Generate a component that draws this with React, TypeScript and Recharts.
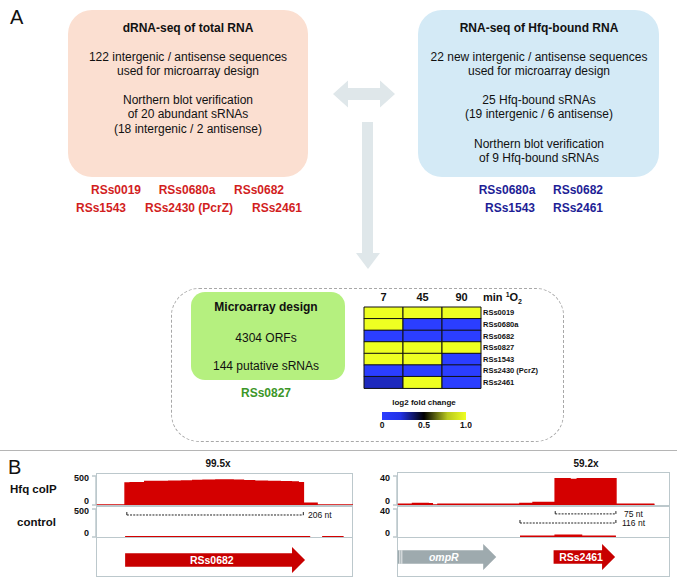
import React from "react";
import { Area, AreaChart, Bar, BarChart, Cell, ReferenceLine, XAxis, YAxis } from "recharts";

const FONT = 'Arial, "Liberation Sans", Helvetica, sans-serif';
const RED = "#d40000";
const FRAME = "#bcc8cc";
const ARROW = "#dfe7ea";

// heatmap: sRNA expression after singlet oxygen (normalised log2 fold change 0..1)
const sRNAs = ["RSs0019", "RSs0680a", "RSs0682", "RSs0827", "RSs1543", "RSs2430 (PcrZ)", "RSs2461"];
const timePoints = ["7", "45", "90"];
const fc7min = [1, 1, 0, 1, 1, 0, 0.27];
const fc45min = [1, 0, 0, 1, 1, 0, 1];
const fc90min = [1, 0, 0, 1, 0, 0, 0];
const foldSeries = [fc7min, fc45min, fc90min];
const scaleTicks = [0, 0.5, 1];

// coverage, left locus (RSs0682), nt positions in a 300 nt window
const leftNt = [0, 34, 40, 57, 70, 85, 100, 113, 125, 140, 150, 160, 172, 185, 200, 215, 228, 236, 242, 258, 300];
const leftHfq = [0, 380, 382, 405, 403, 408, 413, 420, 428, 431, 429, 426, 419, 410, 403, 400, 396, 382, 30, 0, 0];
const leftCtrlNt = [34, 250, 251, 264, 289];
const leftCtrl = [4, 4, null, 4, 4];

// coverage, right locus (ompR / RSs2461), 333 nt window
const rightNt = [0, 19, 38, 43, 50, 150, 166, 193, 211, 220, 267, 314];
const rightHfq = [1, 2, 1.5, 0, 1, 2, 3.5, 36, 35, 36, 1, 1];
const rightCtrlNt = [150, 193, 225, 267];
const rightCtrl = [1, 2.5, 1, 1];

// annotated genes
const leftGenes = ["RSs0682"];
const leftGeneStart = [34];
const leftGeneEnd = [244];
const rightGenes = ["ompR", "RSs2461"];
const rightGeneStart = [1, 191];
const rightGeneEnd = [121, 266];
const geneColors: Record<string, string> = { RSs0682: "#c80000", RSs2461: "#c80000", ompR: "#9eaaae" };
const italicGenes = ["ompR"];

const stops: [number, number[]][] = [
  [0, [43, 62, 255]],
  [0.22, [35, 50, 230]],
  [0.5, [0, 0, 0]],
  [0.78, [185, 200, 30]],
  [1, [238, 255, 34]],
];

const heatColor = (v: number) => {
  for (let i = 1; i < stops.length; i++) {
    const [p1, c1] = stops[i];
    const [p0, c0] = stops[i - 1];
    if (v <= p1) {
      const t = (v - p0) / (p1 - p0);
      const c = c0.map((a, k) => Math.round(a + (c1[k] - a) * t));
      return `rgb(${c[0]},${c[1]},${c[2]})`;
    }
  }
  return "rgb(238,255,34)";
};

type TxtProps = {
  x: number;
  y: number;
  size?: number;
  bold?: boolean;
  italic?: boolean;
  color?: string;
  align?: "left" | "center" | "right";
  children: React.ReactNode;
};

const Txt = ({ x, y, size = 12, bold, italic, color = "#111", align = "center", children }: TxtProps) => (
  <div
    style={{
      position: "absolute",
      left: x,
      top: y - size * 0.49,
      fontSize: size,
      lineHeight: `${size}px`,
      fontWeight: bold ? 700 : 400,
      fontStyle: italic ? "italic" : "normal",
      color,
      whiteSpace: "nowrap",
      transform: align === "center" ? "translateX(-50%)" : align === "right" ? "translateX(-100%)" : undefined,
    }}
  >
    {children}
  </div>
);

const AxisTick = ({ x, y, payload, yMax }: any) => (
  <text
    x={x}
    y={y + (payload.value === yMax ? 2 : -4)}
    dy="0.36em"
    textAnchor="end"
    fontSize={9}
    fontWeight={700}
    fill="#111"
    fontFamily={FONT}
  >
    {payload.value}
  </text>
);

const RowTick = ({ x, y, payload }: any) => (
  <text x={x} y={y} dy="0.36em" textAnchor="start" fontSize={7.5} fontWeight={700} fill="#111" fontFamily={FONT}>
    {payload.value}
  </text>
);

type TrackProps = {
  left: number;
  top: number;
  width: number;
  height: number;
  marginTop: number;
  nt: number[];
  cov: (number | null)[];
  xMax: number;
  yMax: number;
  stepped?: boolean;
  children?: React.ReactNode;
};

const CoverageTrack = ({ left, top, width, height, marginTop, nt, cov, xMax, yMax, stepped = true, children }: TrackProps) => {
  const data = nt.map((n, i) => ({ nt: n, cov: cov[i] }));
  return (
    <div style={{ position: "absolute", left, top }}>
      <AreaChart width={width} height={height} data={data} margin={{ top: marginTop, right: 0, bottom: 1, left: 0 }}>
        <XAxis type="number" dataKey="nt" domain={[0, xMax]} hide allowDataOverflow />
        <YAxis
          type="number"
          domain={[0, yMax]}
          ticks={[0, yMax]}
          interval={0}
          width={30}
          tickSize={4}
          tickMargin={3}
          axisLine={{ stroke: FRAME, strokeWidth: 1.5 }}
          tickLine={{ stroke: FRAME, strokeWidth: 1.5 }}
          tick={<AxisTick yMax={yMax} />}
          allowDataOverflow
        />
        <Area
          type={stepped ? "stepAfter" : "linear"}
          dataKey="cov"
          stroke={RED}
          strokeWidth={1.6}
          fill={RED}
          fillOpacity={1}
          dot={false}
          activeDot={false}
          connectNulls={false}
          isAnimationActive={false}
        />
        {children}
      </AreaChart>
    </div>
  );
};

const bracket = (key: string, from: number, to: number, level: number, tip: number) => [
  <ReferenceLine
    key={`${key}-h`}
    segment={[{ x: from, y: level }, { x: to, y: level }]}
    stroke="#222"
    strokeWidth={1}
    strokeDasharray="2 1.2"
    ifOverflow="visible"
  />,
  <ReferenceLine key={`${key}-a`} segment={[{ x: from, y: level }, { x: from, y: tip }]} stroke="#222" strokeWidth={1} ifOverflow="visible" />,
  <ReferenceLine key={`${key}-b`} segment={[{ x: to, y: level }, { x: to, y: tip }]} stroke="#222" strokeWidth={1} ifOverflow="visible" />,
];

const GeneArrow = (props: any) => {
  const { x, y, width, height, fill, label } = props;
  const hl = 13;
  const cy = y + height / 2;
  const sh = height * 0.26;
  const xe = x + width;
  const xs = xe - hl;
  const pts = `${x},${cy - sh} ${xs},${cy - sh} ${xs},${y} ${xe},${cy} ${xs},${y + height} ${xs},${cy + sh} ${x},${cy + sh}`;
  return (
    <g>
      <polygon points={pts} fill={fill} />
      {x < 3 && (
        <>
          <line x1={x + 2} x2={x + 2} y1={cy - sh} y2={cy + sh} stroke="#fff" strokeWidth={0.8} />
          <line x1={x + 4} x2={x + 4} y1={cy - sh} y2={cy + sh} stroke="#fff" strokeWidth={0.8} />
        </>
      )}
      <text
        x={x + (width - hl / 2) / 2}
        y={cy}
        dy="0.36em"
        textAnchor="middle"
        fill="#fff"
        fontSize={10.5}
        fontWeight={700}
        fontStyle={italicGenes.includes(label) ? "italic" : "normal"}
        fontFamily={FONT}
      >
        {label}
      </text>
    </g>
  );
};

type GeneProps = {
  left: number;
  top: number;
  width: number;
  marginTop: number;
  xMax: number;
  genes: string[];
  starts: number[];
  ends: number[];
};

const GeneTrack = ({ left, top, width, marginTop, xMax, genes, starts, ends }: GeneProps) => {
  const row: Record<string, any> = { lane: "genes" };
  genes.forEach((g, i) => {
    row[g] = [starts[i], ends[i]];
  });
  return (
    <div style={{ position: "absolute", left, top }}>
      <BarChart
        width={width}
        height={40}
        data={[row]}
        layout="vertical"
        margin={{ top: marginTop, right: 0, bottom: 0, left: 0 }}
        barSize={26}
        barGap={-26}
      >
        <XAxis type="number" domain={[0, xMax]} hide allowDataOverflow />
        <YAxis type="category" dataKey="lane" hide />
        {genes.map((g) => (
          <Bar
            key={g}
            dataKey={g}
            fill={geneColors[g]}
            isAnimationActive={false}
            shape={(p: any) => <GeneArrow {...p} label={g} />}
          />
        ))}
      </BarChart>
    </div>
  );
};

const Box = ({ left, top, width, height, radius, bg, border }: any) => (
  <div
    style={{
      position: "absolute",
      left,
      top,
      width,
      height,
      borderRadius: radius,
      background: bg,
      border,
      boxSizing: "border-box",
    }}
  />
);

const HLine = ({ left, top, width, color = FRAME }: any) => (
  <div style={{ position: "absolute", left, top, width, height: 1.5, background: color }} />
);

export default function App() {
  const heatRows = sRNAs.map((name, i) => ({ name, fc7: fc7min[i], fc45: fc45min[i], fc90: fc90min[i] }));

  return (
    <div
      style={{
        position: "absolute",
        left: 0,
        top: 0,
        width: 677,
        height: 586,
        background: "#fff",
        fontFamily: FONT,
        color: "#111",
        overflow: "hidden",
      }}
    >
      <svg width={0} height={0} style={{ position: "absolute" }}>
        <defs>
          <linearGradient id="fcGrad" x1="0" x2="1" y1="0" y2="0">
            {stops.map(([p, c]) => (
              <stop key={p} offset={p} stopColor={`rgb(${c[0]},${c[1]},${c[2]})`} />
            ))}
          </linearGradient>
        </defs>
      </svg>

      {/* panel A */}
      <Txt x={10} y={17} size={20} align="left">A</Txt>

      <Box left={68} top={10} width={240} height={167} radius={24} bg="#fbdfd1" />
      <Txt x={188} y={28} bold>dRNA-seq of total RNA</Txt>
      <Txt x={188} y={57}>122 intergenic / antisense sequences</Txt>
      <Txt x={188} y={71}>used for microarray design</Txt>
      <Txt x={188} y={100}>Northern blot verification</Txt>
      <Txt x={188} y={114}>of 20 abundant sRNAs</Txt>
      <Txt x={188} y={129}>(18 intergenic / 2 antisense)</Txt>

      <Box left={418} top={10} width={241} height={167} radius={24} bg="#d4eaf6" />
      <Txt x={539} y={28} bold>RNA-seq of Hfq-bound RNA</Txt>
      <Txt x={539} y={57}>22 new intergenic / antisense sequences</Txt>
      <Txt x={539} y={71}>used for microarray design</Txt>
      <Txt x={539} y={100}>25 Hfq-bound sRNAs</Txt>
      <Txt x={539} y={114}>(19 intergenic / 6 antisense)</Txt>
      <Txt x={539} y={144}>Northern blot verification</Txt>
      <Txt x={539} y={158}>of 9 Hfq-bound sRNAs</Txt>

      <Txt x={116} y={190} bold color="#d21e1e">RSs0019</Txt>
      <Txt x={187} y={190} bold color="#d21e1e">RSs0680a</Txt>
      <Txt x={259} y={190} bold color="#d21e1e">RSs0682</Txt>
      <Txt x={101} y={208} bold color="#d21e1e">RSs1543</Txt>
      <Txt x={189} y={208} bold color="#d21e1e">RSs2430 (PcrZ)</Txt>
      <Txt x={277} y={208} bold color="#d21e1e">RSs2461</Txt>

      <Txt x={507} y={190} bold color="#1e1e96">RSs0680a</Txt>
      <Txt x={578} y={190} bold color="#1e1e96">RSs0682</Txt>
      <Txt x={510} y={208} bold color="#1e1e96">RSs1543</Txt>
      <Txt x={578} y={208} bold color="#1e1e96">RSs2461</Txt>

      <svg width={677} height={300} style={{ position: "absolute", left: 0, top: 0 }}>
        <polygon
          points="333,94 348,80.5 348,88 380,88 380,80.5 395,94 380,107.5 380,100 348,100 348,107.5"
          fill={ARROW}
        />
        <polygon points="362,122 373,122 373,253 380,253 368,269 356,253 362,253" fill={ARROW} />
      </svg>

      <Box left={171} top={288} width={393} height={154} radius={28} border="1px dashed #a8a8a8" />
      <Box left={191} top={292} width={154} height={88} radius={14} bg="#b5f07f" />
      <Txt x={266} y={307} bold>Microarray design</Txt>
      <Txt x={266} y={338}>4304 ORFs</Txt>
      <Txt x={266} y={366}>144 putative sRNAs</Txt>
      <Txt x={266} y={393} bold color="#3c9628">RSs0827</Txt>

      <div style={{ position: "absolute", left: 360, top: 286 }}>
        <BarChart
          width={193}
          height={104}
          data={heatRows}
          layout="vertical"
          margin={{ top: 1, right: 2, bottom: 2, left: 4 }}
          barCategoryGap={0}
        >
          <XAxis
            type="number"
            orientation="top"
            domain={[0, 3]}
            ticks={[0.5, 1.5, 2.5]}
            interval={0}
            tickFormatter={(v) => timePoints[Math.floor(v)]}
            tickLine={false}
            axisLine={false}
            tickSize={0}
            tickMargin={6}
            height={20}
            tick={{ fontSize: 11, fontWeight: 700, fill: "#111", fontFamily: FONT }}
          />
          <YAxis
            type="category"
            dataKey="name"
            orientation="right"
            width={70}
            interval={0}
            tickLine={false}
            axisLine={false}
            tickSize={0}
            tickMargin={2}
            tick={<RowTick />}
          />
          {timePoints.map((t, j) => (
            <Bar key={t} name={`${t} min`} dataKey={() => 1} stackId="h" stroke="#111" strokeWidth={1} isAnimationActive={false}>
              {heatRows.map((r, i) => (
                <Cell key={r.name} fill={heatColor(foldSeries[j][i])} />
              ))}
            </Bar>
          ))}
        </BarChart>
      </div>
      <div style={{ position: "absolute", left: 483, top: 291, fontSize: 11, fontWeight: 700, lineHeight: "12px", whiteSpace: "nowrap" }}>
        min <span style={{ fontSize: 7, position: "relative", top: -4 }}>1</span>O
        <span style={{ fontSize: 7, position: "relative", top: 3 }}>2</span>
      </div>

      <Txt x={424} y={403} size={8} bold>log2 fold change</Txt>
      <div style={{ position: "absolute", left: 376, top: 410 }}>
        <BarChart
          width={96}
          height={24}
          data={[{ name: "log2", span: [0, 1] }]}
          layout="vertical"
          margin={{ top: 2, right: 6, bottom: 0, left: 6 }}
          barCategoryGap={0}
        >
          <XAxis
            type="number"
            domain={[0, 1]}
            ticks={scaleTicks}
            interval={0}
            tickFormatter={(v) => (v === 1 ? "1.0" : String(v))}
            tickLine={false}
            axisLine={false}
            tickSize={0}
            tickMargin={2}
            height={14}
            tick={{ fontSize: 8.5, fontWeight: 700, fill: "#111", fontFamily: FONT }}
          />
          <YAxis type="category" dataKey="name" hide />
          <Bar dataKey="span" fill="url(#fcGrad)" isAnimationActive={false} />
        </BarChart>
      </div>

      <HLine left={0} top={449.5} width={677} color="#b5b5b5" />

      {/* panel B */}
      <Txt x={8} y={467} size={20} align="left">B</Txt>
      <Txt x={10} y={490} size={11.5} bold align="left">Hfq coIP</Txt>
      <Txt x={17} y={523} size={11.5} bold align="left">control</Txt>
      <Txt x={218} y={464} size={10} bold>99.5x</Txt>
      <Txt x={586} y={464} size={10} bold>59.2x</Txt>

      <Box left={96} top={473} width={257} height={104} border={`1.5px solid ${FRAME}`} />
      <HLine left={96} top={505} width={257} />
      <HLine left={96} top={536.5} width={257} />
      <Box left={397} top={472} width={273} height={105} border={`1.5px solid ${FRAME}`} />
      <HLine left={397} top={505} width={273} />
      <HLine left={397} top={536.5} width={273} />

      <CoverageTrack left={66} top={470} width={287} height={36} marginTop={6} nt={leftNt} cov={leftHfq} xMax={300} yMax={500} />
      <CoverageTrack
        left={66}
        top={505}
        width={287}
        height={33}
        marginTop={4}
        nt={leftCtrlNt}
        cov={leftCtrl}
        xMax={300}
        yMax={500}
        stepped={false}
      >
        {bracket("b206", 36, 242, 393, 446)}
      </CoverageTrack>
      <GeneTrack left={96} top={537} width={257} marginTop={6} xMax={300} genes={leftGenes} starts={leftGeneStart} ends={leftGeneEnd} />
      <Txt x={308} y={515} size={8.5} align="left">206 nt</Txt>

      <CoverageTrack left={367} top={470} width={303} height={36} marginTop={6} nt={rightNt} cov={rightHfq} xMax={333} yMax={40} />
      <CoverageTrack left={367} top={505} width={303} height={33} marginTop={4} nt={rightCtrlNt} cov={rightCtrl} xMax={333} yMax={40}>
        {bracket("b75", 193, 267, 33, 37)}
        {bracket("b116", 150, 267, 20, 24.3)}
      </CoverageTrack>
      <GeneTrack left={397} top={537} width={273} marginTop={0} xMax={333} genes={rightGenes} starts={rightGeneStart} ends={rightGeneEnd} />
      <Txt x={624} y={514} size={8.5} align="left">75 nt</Txt>
      <Txt x={622} y={523} size={8.5} align="left">116 nt</Txt>
    </div>
  );
}
